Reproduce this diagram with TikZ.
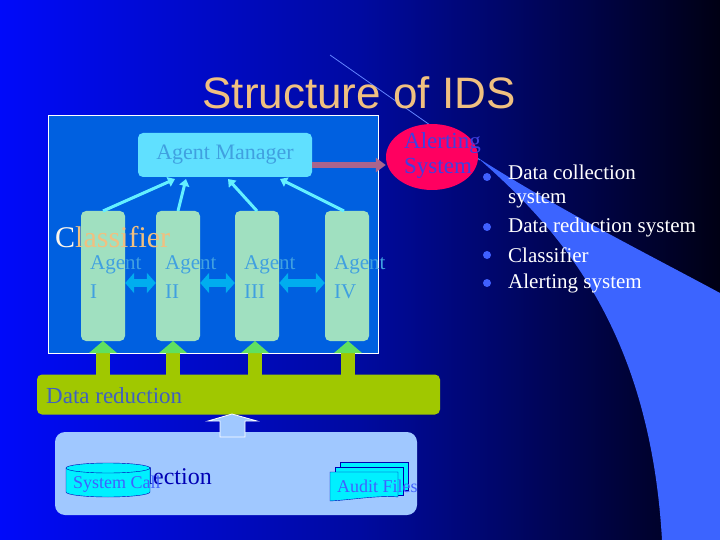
\documentclass[tikz,border=0pt]{standalone}
\usepackage{fontspec}
\setmainfont{Liberation Serif}
\newfontfamily\arialf{Liberation Sans}
\usetikzlibrary{shapes.geometric,arrows.meta}
\definecolor{bgL}{RGB}{0,10,250}
\definecolor{bgM}{RGB}{0,10,160}
\definecolor{bgR}{RGB}{0,0,20}
\definecolor{swoosh}{RGB}{60,100,255}
\definecolor{titlec}{RGB}{240,192,128}
\definecolor{panel}{RGB}{0,96,224}
\definecolor{mgr}{RGB}{96,224,255}
\definecolor{txtb}{RGB}{64,160,224}
\definecolor{agentc}{RGB}{160,224,192}
\definecolor{alertc}{RGB}{255,0,96}
\definecolor{alerttxt}{RGB}{64,64,224}
\definecolor{mgrarrow}{RGB}{170,100,140}
\definecolor{redc}{RGB}{160,200,0}
\definecolor{headg}{RGB}{96,224,96}
\definecolor{redtxt}{RGB}{64,96,192}
\definecolor{collc}{RGB}{160,200,255}
\definecolor{darkb}{RGB}{0,0,180}
\definecolor{cylc}{RGB}{0,240,255}
\definecolor{bullc}{RGB}{64,96,255}
\definecolor{upc}{RGB}{100,240,255}
\tikzset{
 agentbox/.style={draw=none,fill=agentc,rounded corners=5pt,minimum width=44pt,minimum height=130pt},
 agenttxt/.style={text=txtb,font=\fontsize{21}{29}\selectfont,align=left,anchor=north west,inner sep=0pt},
 uparrow/.style={upc,line width=3pt,-{Triangle[length=7pt,width=10pt]}},
 dblarrow/.style={cyan,line width=8pt,{Triangle[length=9pt,width=20pt]}-{Triangle[length=9pt,width=20pt]}},
 bullettxt/.style={text=white,font=\fontsize{21}{24}\selectfont,anchor=west,inner sep=0pt,align=left},
 bdot/.style={fill=bullc,circle,inner sep=0pt,minimum size=8pt}
}
\begin{document}
\begin{tikzpicture}[x=1pt,y=-1pt]
\useasboundingbox (0,0) rectangle (720,540);
\shade[left color=bgL,right color=bgR,middle color=bgM] (0,0) rectangle (720,540);
% swoosh
\fill[swoosh] (478,158) .. controls (560,230) and (650,330) .. (662,540) -- (720,540) -- (720,293) .. controls (640,250) and (560,210) .. (478,158) -- cycle;
\draw[swoosh!80!white,line width=0.8pt] (330,55) -- (480,160);
% title
\node[text=titlec,font=\arialf\fontsize{44}{46}\selectfont] (title) at (359,93) {Structure of IDS};
% panel
\node[draw=white,line width=0.8pt,fill=panel,minimum width=330pt,minimum height=238pt,inner sep=0pt] (panel) at (213,234) {};
% manager
\node[fill=mgr,rounded corners=5pt,minimum width=174pt,minimum height=44pt,text=txtb,font=\fontsize{22}{22}\selectfont] (mgr) at (225,155) {Agent Manager};
% alerting
\node[ellipse,fill=alertc,minimum width=92pt,minimum height=66pt] (alert) at (432,157) {};
\node[text=alerttxt,font=\fontsize{23}{25}\selectfont,align=left,anchor=west,inner sep=0pt] (alerttext) at (404,156) {Alerting\\System};
\draw[mgrarrow,line width=6pt,-{Triangle[length=10pt,width=14pt]}] (mgr.east |- 0,165) -- (alert.west |- 0,165);
% agents
\node[agentbox] (a1) at (103,276) {};
\node[agentbox] (a2) at (178,276) {};
\node[agentbox] (a3) at (257,276) {};
\node[agentbox] (a4) at (347,276) {};
\node[text=titlec,font=\fontsize{30}{30}\selectfont,anchor=west,inner sep=0pt] (cls) at (55,237) {\textcolor{white!85!titlec}{C}lassifier};
\node[agenttxt] (t1) at (90,255) {Agent\\I};
\node[agenttxt] (t2) at (165,255) {Agent\\II};
\node[agenttxt] (t3) at (244,255) {Agent\\III};
\node[agenttxt] (t4) at (334,255) {Agent\\IV};
\draw[dblarrow] (a1.east |- 0,283) -- (a2.west |- 0,283);
\draw[dblarrow] (a2.east |- 0,283) -- (a3.west |- 0,283);
\draw[dblarrow] (a3.east |- 0,283) -- (a4.west |- 0,283);
\coordinate (m1) at (175,179); \coordinate (m2) at (186,179);
\coordinate (m3) at (228,179); \coordinate (m4) at (280,179);
\draw[uparrow] (103,211) -- (m1);
\draw[uparrow] (178,211) -- (m2);
\draw[uparrow] (257,211) -- (m3);
\draw[uparrow] (344,211) -- (m4);
% data reduction
\node[fill=redc,rounded corners=5pt,minimum width=403pt,minimum height=40pt,inner sep=0pt] (red) at (238.5,394.5) {};
\node[text=redtxt,font=\fontsize{23}{23}\selectfont,anchor=west,inner sep=0pt] (redt) at (46,396) {Data reduction};
\foreach \x in {103,173,255,348}{
 \fill[redc] (\x-7,375) rectangle (\x+7,352);
 \fill[headg] (\x-14,353) -- (\x,341) -- (\x+14,353) -- cycle;
}
% collection
\node[fill=collc,rounded corners=10pt,minimum width=362pt,minimum height=83pt,inner sep=0pt] (coll) at (236,473.5) {};
\draw[white,fill=collc,line width=0.8pt] (220,437) -- (220,421) -- (208,421) -- (232,414) -- (257,421) -- (245,421) -- (245,437) -- cycle;
\node[text=darkb,font=\fontsize{24}{24}\selectfont,anchor=east,inner sep=0pt] (collt) at (212,476) {Data collection};
% cylinder
\draw[darkb,fill=cylc] (66,468) -- (66,492) arc[start angle=180,end angle=0,x radius=42,y radius=5] -- (150,468) arc[start angle=0,end angle=-180,x radius=42,y radius=5] -- cycle;
\draw[darkb] (66,468) arc[start angle=180,end angle=0,x radius=42,y radius=5];
\node[text=bullc,font=\fontsize{18}{18}\selectfont,anchor=west,inner sep=0pt] (cylt) at (73,484) {System Call};
% audit files
\draw[darkb,fill=cylc] (340,462) rectangle (408,490);
\draw[darkb,fill=cylc] (335,467) rectangle (403,495);
\draw[darkb,fill=cylc] (330,472) -- (398,472) -- (398,497) .. controls (380,495) and (350,500) .. (330,501) -- cycle;
\node[text=bullc,font=\fontsize{18}{18}\selectfont,anchor=west,inner sep=0pt] (audt) at (337,486) {Audit Files};
% bullets
\node[bdot] (b1) at (487,177) {};
\node[bdot] (b2) at (487,227) {};
\node[bdot] (b3) at (487,255) {};
\node[bdot] (b4) at (487,283) {};
\node[bullettxt,anchor=north west] (l1) at (508,165) {Data collection\\system};
\node[bullettxt] (l2) at (508,227) {Data reduction system};
\node[bullettxt] (l3) at (508,255) {Classifier};
\node[bullettxt] (l4) at (508,283) {Alerting system};
\end{tikzpicture}
\end{document}
